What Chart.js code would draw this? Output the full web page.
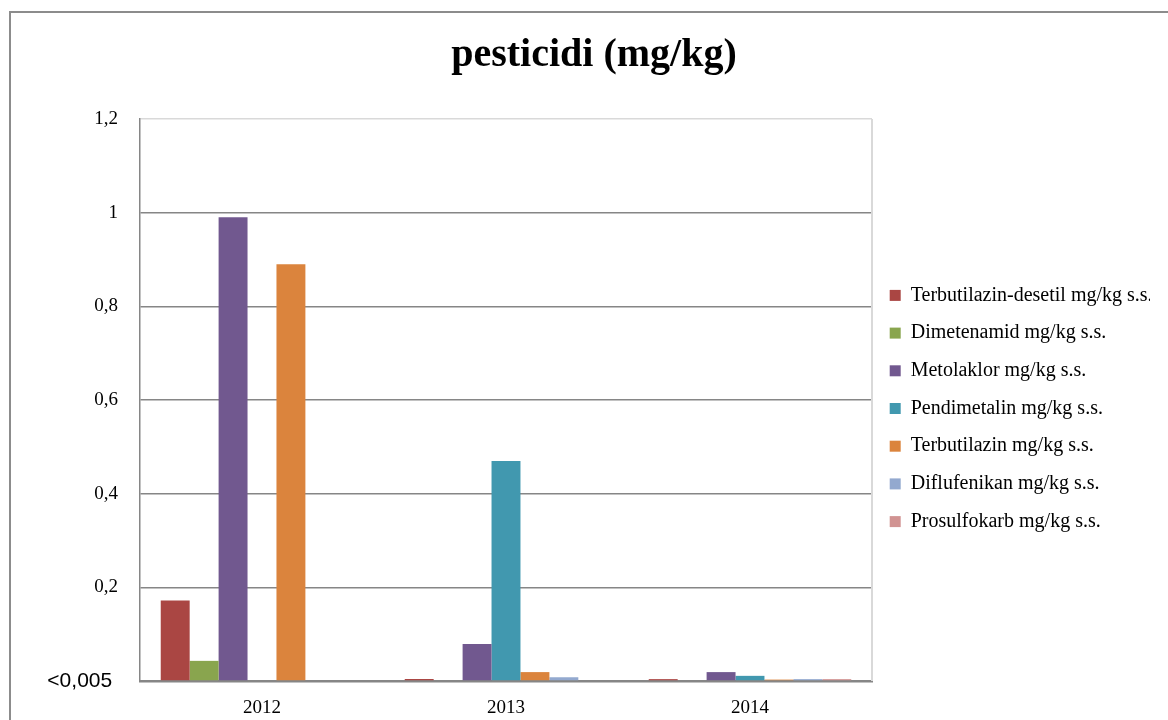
<!DOCTYPE html>
<html lang="hr">

<head>
  <meta charset="UTF-8" />
  <title>pesticidi (mg/kg)</title>
  <script src="https://cdn.jsdelivr.net/npm/chart.js"></script>
  <style>
    body { margin: 0; background: #fff; }
    #wrap { position: relative; width: 1168px; height: 720px; overflow: hidden; }
    #frame { position: absolute; left: 9px; top: 11px; width: 1200px; height: 760px;
             border-top: 2px solid #8c8c8c; border-left: 2px solid #8c8c8c; pointer-events: none; }
  </style>
</head>

<body>
  <div id="wrap">
    <canvas id="pestChart" width="1168" height="720"></canvas>
    <div id="frame"></div>
  </div>

  <script>
    const years = ["2012", "2013", "2014"];

    const terbutilazinDesetil = [0.172, 0.0043, 0.004];
    const dimetenamid = [0.043, 0, 0];
    const metolaklor = [0.990, 0.079, 0.019];
    const pendimetalin = [0, 0.47, 0.011];
    const terbutilazin = [0.890, 0.019, 0.003];
    const diflufenikan = [0, 0.008, 0.004];
    const prosulfokarb = [0, 0, 0.004];

    const seriesNames = [
      "Terbutilazin-desetil mg/kg s.s.",
      "Dimetenamid mg/kg s.s.",
      "Metolaklor mg/kg s.s.",
      "Pendimetalin mg/kg s.s.",
      "Terbutilazin mg/kg s.s.",
      "Diflufenikan mg/kg s.s.",
      "Prosulfokarb mg/kg s.s."
    ];
    const seriesValues = [terbutilazinDesetil, dimetenamid, metolaklor, pendimetalin, terbutilazin, diflufenikan, prosulfokarb];
    const seriesColors = ["#AA4643", "#89A54E", "#71588F", "#4198AF", "#DB843D", "#93A9CF", "#D19392"];

    const serif = "'Liberation Serif', 'Times New Roman', serif";

    const datasets = seriesNames.map((name, i) => ({
      label: name,
      data: seriesValues[i],
      backgroundColor: seriesColors[i],
      borderWidth: 0,
      categoryPercentage: 0.83,
      barPercentage: 1.0
    }));

    // light border on the right side of the plot area
    const plotBorder = {
      id: "plotBorder",
      beforeDatasetsDraw(chart) {
        const { ctx, chartArea: a } = chart;
        ctx.save();
        ctx.strokeStyle = "#d9d9d9";
        ctx.lineWidth = 2;
        ctx.beginPath();
        ctx.moveTo(a.right, a.top);
        ctx.lineTo(a.right, a.bottom);
        ctx.stroke();
        ctx.restore();
      }
    };

    const ctx = document.getElementById("pestChart").getContext("2d");
    new Chart(ctx, {
      type: "bar",
      data: { labels: years, datasets },
      plugins: [plotBorder],
      options: {
        responsive: false,
        animation: false,
        devicePixelRatio: 1,
        layout: { padding: { left: 38, right: 18, top: 0, bottom: 0 } },
        plugins: {
          title: {
            display: true,
            text: "pesticidi (mg/kg)",
            color: "#000",
            font: { family: serif, size: 40, weight: "bold", lineHeight: 1.2 },
            padding: { top: 32, bottom: 39 }
          },
          legend: {
            position: "right",
            align: "center",
            fullSize: false,
            title: { display: true, text: " ", font: { size: 10, lineHeight: 1 }, padding: { top: 7, bottom: 0 } },
            labels: {
              color: "#000",
              font: { family: serif, size: 20 },
              boxWidth: 11,
              boxHeight: 11,
              padding: 17.7
            }
          },
          tooltip: { enabled: false }
        },
        scales: {
          x: {
            grid: { display: false, drawTicks: false },
            border: { color: "#868686", width: 2.5 },
            ticks: { color: "#000", font: { family: serif, size: 19 }, padding: 16 },
            afterFit: scale => { scale.height = 39; }
          },
          y: {
            min: 0,
            max: 1.2,
            ticks: {
              stepSize: 0.2,
              color: "#000",
              padding: 22,
              font: c => c.tick && c.tick.value === 0
                ? { family: "'Liberation Sans', Arial, sans-serif", size: 21 }
                : { family: serif, size: 19 },
              callback: v => v === 0 ? "<0,005 " : String(+v.toFixed(1)).replace(".", ",")
            },
            grid: {
              drawTicks: false,
              color: c => c.tick && Math.abs(c.tick.value - 1.2) < 1e-6 ? "#d9d9d9" : "#868686",
              lineWidth: 1.5
            },
            border: { color: "#868686", width: 1.5 },
            afterFit: scale => { scale.width = 102; }
          }
        }
      }
    });
  </script>
</body>

</html>
